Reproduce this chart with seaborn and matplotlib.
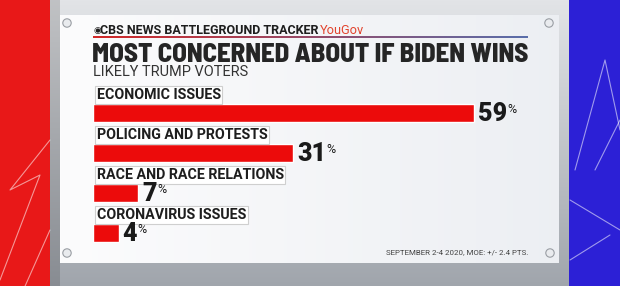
import numpy as np
import pandas as pd
import matplotlib
matplotlib.use("Agg")
import matplotlib.pyplot as plt
from matplotlib import font_manager
from matplotlib.patches import Circle
import seaborn as sns

# ---- data ----
issues = ["ECONOMIC ISSUES", "POLICING AND PROTESTS", "RACE AND RACE RELATIONS", "CORONAVIRUS ISSUES"]
values = [59, 31, 7, 4]
header = "CBS NEWS BATTLEGROUND TRACKER"
brand = "YouGov"
title = "MOST CONCERNED ABOUT IF BIDEN WINS"
subtitle = "LIKELY TRUMP VOTERS"
footnote = "SEPTEMBER 2-4 2020, MOE: +/- 2.4 PTS."

sns.set_theme(style="white")
entries = [(f.name, f.weight) for f in font_manager.fontManager.ttflist]
available = {n for n, _ in entries}


def maxweight(name):
    ws = [w if isinstance(w, int) else font_manager.weight_dict.get(w, 400)
          for n, w in entries if n == name]
    return max(ws) if ws else 0


def pick(prefs):
    for p in prefs:
        if p in available:
            return p
    return "DejaVu Sans"


cond_prefs = ["Barlow Semi Condensed", "Fira Sans Condensed", "Encode Sans Semi Condensed",
              "Encode Sans Condensed", "IBM Plex Sans Condensed", "Roboto Condensed",
              "Archivo Narrow", "Liberation Sans Narrow"]
heavy = [p for p in cond_prefs if maxweight(p) >= 800]
condensed = heavy[0] if heavy else pick(cond_prefs + ["Roboto"])
plain = pick(["Roboto", "Liberation Sans"])
plt.rcParams["font.family"] = [plain, "DejaVu Sans"]
fam = [plain, "DejaVu Sans"]

W, H = 620, 286
fig = plt.figure(figsize=(W / 100, H / 100), dpi=100)

# ---- background decoration ----
bg = fig.add_axes([0, 0, 1, 1])
bg.set_xlim(0, W)
bg.set_ylim(H, 0)
bg.axis("off")
yy, xx = np.mgrid[0:H, 0:W]
img = np.zeros((H, W, 3))
t = yy / H
top = np.array([226, 228, 231]) / 255
bot = np.array([160, 165, 172]) / 255
img[:] = top * (1 - t[..., None]) + bot * t[..., None]
red = np.array([232, 24, 24]) / 255
blue = np.array([44, 32, 214]) / 255
img[xx < 50] = red
sh = (xx >= 50) & (xx < 60)
img[sh] = img[sh] * 0.85
img[xx >= 569] = blue
panel = (xx >= 60) & (xx <= 558) & (yy >= 15) & (yy <= 262)
fx = (xx - 60) / 498
pc = np.array([252, 252, 253]) / 255 * (1 - fx[..., None] * 0.6) + np.array([226, 230, 236]) / 255 * (fx[..., None] * 0.6)
img[panel] = pc[panel]
bg.imshow(img, extent=(0, W, H, 0), aspect="auto", zorder=0, interpolation="bilinear")
for xs, ys in [([0, 40, 10, 50], [280, 175, 190, 140]), ([10, 50], [320, 230]),
               ([575, 605, 620], [170, 60, 130]), ([595, 620], [170, 120]),
               ([570, 620], [200, 230]), ([570, 610], [260, 235])]:
    bg.plot(xs, ys, color="white", lw=0.8, alpha=0.55, zorder=1)
for cx, cy in [(67, 23), (549, 23), (67, 253), (550, 253)]:
    bg.add_patch(Circle((cx, cy), 4.2, fc="#e9ebee", ec="#9a9ea4", lw=0.8, zorder=2))
grad = np.linspace(0, 1, 200)[None, :, None]
line = np.array([210, 40, 40]) / 255 * (1 - grad) + np.array([90, 110, 170]) / 255 * grad
bg.imshow(line, extent=(93, 528, 37.8, 36.6), aspect="auto", zorder=2)

renderer = fig.canvas.get_renderer()


def fit(txt, width_px):
    ext = txt.get_window_extent(renderer=renderer)
    txt.set_fontsize(txt.get_fontsize() * width_px / ext.width)
    return txt.get_fontsize()


# ---- header texts ----
fig.text(93 / W, 1 - 30.5 / H, "◉", fontsize=6.5, color="#1e1e1e", family="DejaVu Sans",
         ha="left", va="center")
h = fig.text(99.5 / W, 1 - 30.5 / H, header, fontsize=9, fontweight="bold", color="#1e1e1e",
             family=fam, ha="left", va="center")
fit(h, 218)
fig.text(320 / W, 1 - 30.5 / H, brand, fontsize=h.get_fontsize() * 1.02, color="#e2442e",
         family=fam, ha="left", va="center")
# title: baseline at y=62 px
tt = fig.text(92 / W, 1 - 62 / H, title, fontsize=20, fontweight="heavy", color="#252525",
              family=[condensed, "DejaVu Sans"], ha="left", va="baseline")
fit(tt, 436)
st = fig.text(93 / W, 1 - 72.5 / H, subtitle, fontsize=10, color="#333333", family=fam,
              ha="left", va="center")
fit(st, 154)
ft = fig.text(528 / W, 1 - 252.5 / H, footnote, fontsize=5, color="#444444", family=fam,
              ha="right", va="center")
fit(ft, 143)

# ---- bars ----
df = pd.DataFrame({"issue": issues, "value": values})
ax = fig.add_axes([93 / W, (H - 253) / H, 465 / W, 180 / H])
ax.patch.set_alpha(0)
sns.barplot(data=df, x="value", y="issue", orient="h", color="#ec0b0b", saturation=1,
            width=0.45, ax=ax)
ax.set_xlim(0, 72)
ax.set_ylim(3.5, -1)
ax.axis("off")

probe = ax.text(0, 0, issues[0], fontsize=9, fontweight="bold", family=fam)
lab_fs = fit(probe, 124)
probe.remove()
probe = ax.text(0, 0, "59", fontsize=15, fontweight="heavy", family=fam)
num_fs = fit(probe, 29)
probe.remove()

for i, (lab, v) in enumerate(zip(issues, values)):
    ax.text(0.55, i - 0.455, lab, fontsize=lab_fs, fontweight="bold", color="#1e1e1e",
            family=fam, ha="left", va="center",
            bbox=dict(boxstyle="square,pad=0.12", fc="white", ec="#cfcfcf", lw=0.8))
    num = ax.text(v + 0.6, i + 0.03, f"{v}", fontsize=num_fs, fontweight="heavy", color="#1a1a1a",
                  family=fam, ha="left", va="center")
    ax.annotate("%", xy=(1, 1), xycoords=num, xytext=(0.3, -0.3), textcoords="offset points",
                fontsize=num_fs * 0.5, color="#1a1a1a", family=fam, ha="left", va="top")

fig.savefig("out.png", dpi=100)
